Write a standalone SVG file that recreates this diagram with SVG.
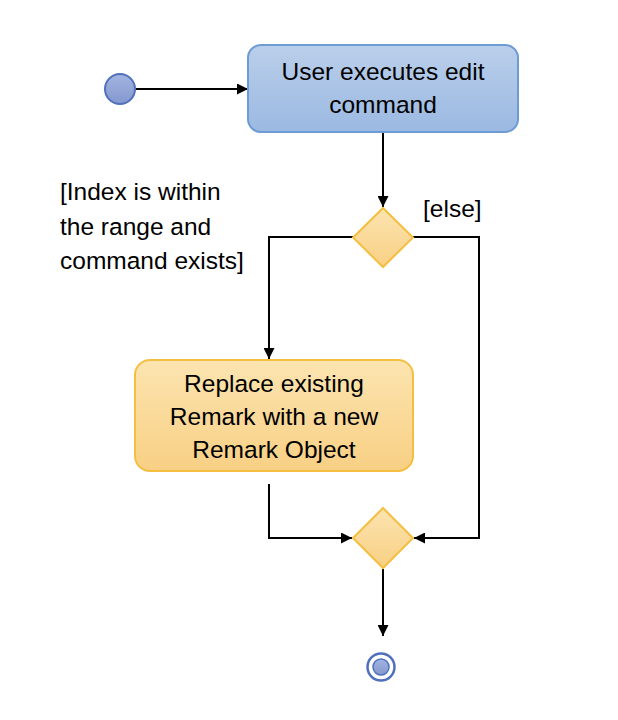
<svg xmlns="http://www.w3.org/2000/svg" width="618" height="720" viewBox="0 0 618 720">
<defs>
<linearGradient id="gBlue" x1="0" y1="0" x2="0" y2="1"><stop offset="0" stop-color="#BACFEA"/><stop offset="1" stop-color="#9BB9E2"/></linearGradient>
<linearGradient id="gOrange" x1="0" y1="0" x2="0" y2="1"><stop offset="0" stop-color="#FCE4B0"/><stop offset="1" stop-color="#F8D084"/></linearGradient>
<linearGradient id="gCircle" x1="0" y1="0" x2="0" y2="1"><stop offset="0" stop-color="#A3B4E0"/><stop offset="1" stop-color="#8398CF"/></linearGradient>
<marker id="arr" viewBox="0 0 10 10" refX="10" refY="5" markerWidth="11" markerHeight="11" markerUnits="userSpaceOnUse" orient="auto">
<path d="M0,0 L10,5 L0,10 Z" fill="#000"/>
</marker>
<style>
.t{font-family:"Liberation Sans",Arial,sans-serif;font-size:24.5px;fill:#000}
.c{stroke:#000;stroke-width:2;fill:none}
.dia{fill:url(#gOrange);stroke:#F4BF40;stroke-width:2}
</style>
</defs>
<rect width="618" height="720" fill="#fff"/>
<g id="connectors">
<path class="c" d="M136,89 L248,89" marker-end="url(#arr)"/>
<path class="c" d="M383,132 L383,207" marker-end="url(#arr)"/>
<path class="c" d="M353,237 L269,237 L269,359" marker-end="url(#arr)"/>
<path class="c" d="M413,237 L479,237 L479,538 L414,538" marker-end="url(#arr)"/>
<path class="c" d="M269,484 L269,538 L352,538" marker-end="url(#arr)"/>
<path class="c" d="M383,569 L383,636" marker-end="url(#arr)"/>
</g>
<g id="start"><circle cx="120" cy="89" r="15" fill="url(#gCircle)" stroke="#5070BC" stroke-width="2"/></g>
<g id="edit">
<rect x="248" y="45" width="270" height="87" rx="13" fill="url(#gBlue)" stroke="#6D9BD3" stroke-width="2"/>
<text class="t" x="383" y="80" text-anchor="middle">User executes edit</text>
<text class="t" x="383" y="113" text-anchor="middle">command</text>
</g>
<g id="decision"><polygon class="dia" points="383,208 413,237.5 383,267 353,237.5"/></g>
<g id="labels">
<text class="t" x="423" y="217">[else]</text>
<text class="t" x="60" y="200">[Index is within</text>
<text class="t" x="60" y="235">the range and</text>
<text class="t" x="60" y="269">command exists]</text>
</g>
<g id="replace">
<rect x="135" y="360" width="278" height="111" rx="15" fill="url(#gOrange)" stroke="#F4BF40" stroke-width="2"/>
<text class="t" x="274" y="392" text-anchor="middle">Replace existing</text>
<text class="t" x="274" y="425" text-anchor="middle">Remark with a new</text>
<text class="t" x="274" y="458" text-anchor="middle">Remark Object</text>
</g>
<g id="merge"><polygon class="dia" points="383,508 413,538 383,568 353,538"/></g>
<g id="end">
<circle cx="381" cy="667" r="13.5" fill="#fff" stroke="#4F71BD" stroke-width="2.5"/>
<circle cx="381" cy="667" r="8" fill="url(#gCircle)" stroke="#4F71BD" stroke-width="1.5"/>
</g>
</svg>
